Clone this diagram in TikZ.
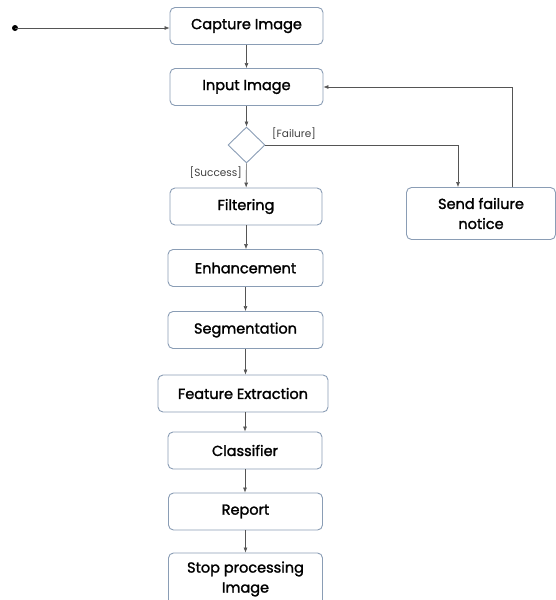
\documentclass[tikz,border=0pt]{standalone}
\usepackage{fontspec}
\setmainfont{Poppins}
\newfontfamily\boxfont{Poppins}[FakeBold=1.6]
\usetikzlibrary{arrows.meta,shapes.geometric}
\definecolor{boxline}{HTML}{8A9DB5}
\definecolor{conn}{HTML}{555555}
\begin{document}
\begin{tikzpicture}[x=1pt,y=-1pt,
  stepbox/.style={draw=boxline,line width=0.9pt,rounded corners=5pt,fill=white,
    minimum height=37pt,align=center,inner sep=0pt,font=\boxfont\fontsize{14.5}{20}\selectfont},
  flow/.style={draw=conn,line width=0.6pt,-{Latex[length=5pt,width=4pt]}},
  guard/.style={font=\fontsize{10.5}{12}\selectfont,text=black!75,inner sep=1pt}]
\useasboundingbox (0,0) rectangle (555,600);
\node[stepbox,minimum width=153pt] (cap) at (246.5,26) {Capture Image};
\node[stepbox,minimum width=153pt] (inp) at (246.5,87) {Input Image};
\node[diamond,draw=boxline,line width=0.9pt,minimum width=37pt,minimum height=36pt,inner sep=0pt] (dec) at (246.5,145) {};
\node[stepbox,minimum width=152pt] (fil) at (246,206.5) {Filtering};
\node[stepbox,minimum width=155pt] (enh) at (245.5,268) {Enhancement};
\node[stepbox,minimum width=155pt] (seg) at (245.5,330) {Segmentation};
\node[stepbox,minimum width=170pt] (fea) at (243,393.5) {Feature Extraction};
\node[stepbox,minimum width=154pt] (cla) at (245,450.5) {Classifier};
\node[stepbox,minimum width=154pt] (rep) at (245.5,511.5) {Report};
\node[stepbox,minimum width=154pt,minimum height=52pt] (stp) at (245.5,579) {Stop processing\\Image};
\node[stepbox,minimum width=149pt,minimum height=52pt] (snd) at (481,213.5) {Send failure\\notice};
\fill[black] (15,28) circle (3pt);
\coordinate (startc) at (15,28);
\draw[flow] (startc) -- (cap.west |- startc);
\draw[flow] (cap) -- (inp);
\draw[flow] (inp) -- (dec);
\draw[flow] (dec) -- (fil);
\draw[flow] (fil) -- (fil |- enh.north);
\draw[flow] (enh) -- (seg);
\draw[flow] (seg) -- (seg |- fea.north);
\draw[flow] (fea.south -| cla) -- (cla);
\draw[flow] (cla) -- (cla |- rep.north);
\draw[flow] (rep) -- (stp);
\draw[flow] (dec.east) -| (458,0 |- snd.north);
\draw[flow] (512,0 |- snd.north) |- (inp.east);
\node[guard,anchor=west] (fl) at (271,134) {[Failure]};
\node[guard,anchor=east] (sl) at (243,173) {[Success]};
\end{tikzpicture}
\end{document}
